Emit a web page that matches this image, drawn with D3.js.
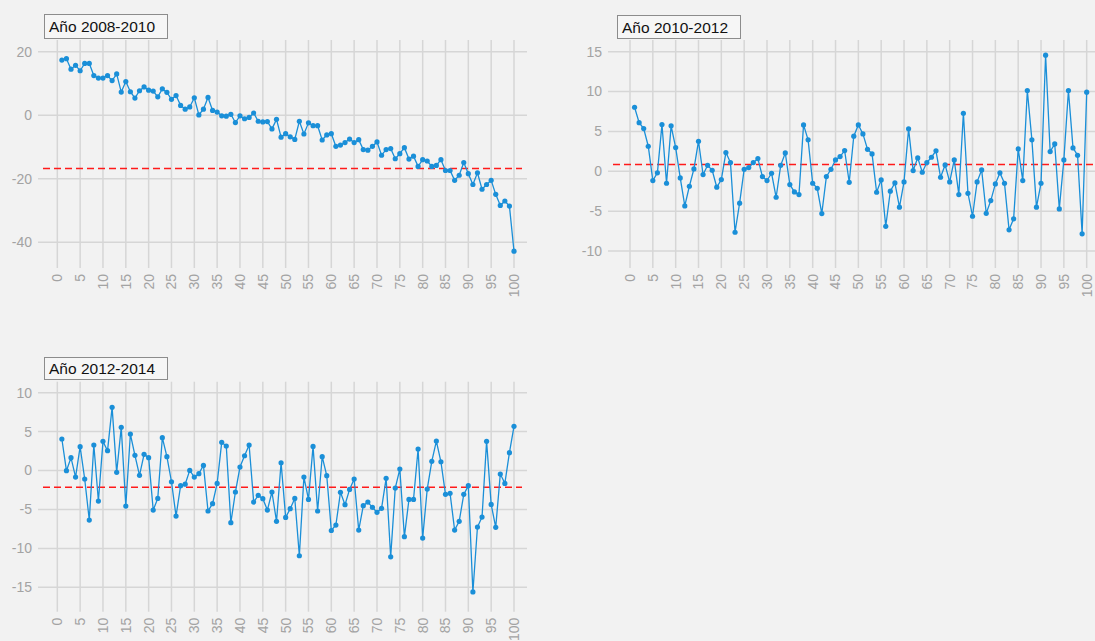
<!DOCTYPE html>
<html>
<head>
<meta charset="utf-8">
<script src="https://cdn.jsdelivr.net/npm/d3@7"></script>
<style>
  html, body { margin: 0; padding: 0; background: #f2f2f2; }
  svg { display: block; }
</style>
</head>
<body>
<svg id="chart" width="1095" height="641"></svg>
<script>
// ---- data ----
const titles = ["Año 2008-2010", "Año 2010-2012", "Año 2012-2014"];
const xTicks = d3.range(0, 101, 5);
const yTicks1 = [20, 0, -20, -40];
const yTicks2 = [15, 10, 5, 0, -5, -10];
const yTicks3 = [10, 5, 0, -5, -10, -15];
const refValues = [-16.8, 0.84, -2.15];

const values2008 = [17.35, 17.8, 14.5, 15.7, 14.0, 16.3, 16.3, 12.5, 11.7, 11.7,
  12.5, 10.9, 13.0, 7.3, 10.6, 7.4, 5.4, 7.7, 8.9, 7.9,
  7.6, 5.8, 8.3, 7.2, 5.0, 6.2, 3.1, 1.9, 2.6, 5.5,
  0.1, 1.9, 5.6, 1.5, 1.0, -0.2, -0.3, 0.3, -2.3, -0.2,
  -1.1, -0.7, 0.7, -1.9, -2.1, -2.0, -4.3, -1.3, -6.9, -5.8,
  -6.8, -7.6, -1.9, -5.9, -2.4, -3.3, -3.3, -7.8, -6.2, -5.8,
  -9.8, -9.4, -8.6, -7.5, -8.6, -7.7, -10.8, -11.0, -9.8, -8.4,
  -12.6, -10.8, -10.5, -13.7, -12.1, -10.2, -13.8, -12.9, -16.1, -14.0,
  -14.4, -16.1, -15.8, -14.0, -17.4, -17.4, -20.5, -18.9, -14.9, -18.4,
  -21.8, -18.1, -23.3, -21.8, -20.5, -24.9, -28.4, -27.0, -28.6, -42.8];

const values2010 = [8.03, 6.1, 5.36, 3.14, -1.17, -0.2, 5.86, -1.5, 5.7, 2.97,
  -0.83, -4.34, -1.88, 0.3, 3.77, -0.41, 0.75, 0.13, -2.0, -1.04,
  2.35, 1.09, -7.65, -4.0, 0.25, 0.46, 1.09, 1.59, -0.67, -1.17,
  -0.25, -3.26, 0.75, 2.3, -1.67, -2.59, -2.92, 5.82, 3.94, -1.5,
  -2.13, -5.3, -0.67, 0.25, 1.43, 1.84, 2.6, -1.38, 4.4, 5.82,
  4.69, 2.76, 2.18, -2.63, -1.08, -6.9, -2.5, -1.46, -4.5, -1.33,
  5.32, 0.09, 1.68, -0.12, 1.09, 1.76, 2.56, -0.75, 0.8, -1.33,
  1.43, -2.92, 7.28, -2.76, -5.64, -1.33, 0.17, -5.27, -3.68, -1.58,
  -0.2, -1.5, -7.35, -5.97, 2.81, -1.17, 10.13, 3.94, -4.5, -1.5,
  14.56, 2.47, 3.43, -4.72, 1.43, 10.13, 2.93, 2.01, -7.85, 9.92];

const values2012 = [4.05, -0.02, 1.65, -0.84, 3.06, -1.09, -6.36, 3.28, -3.92, 3.75,
  2.55, 8.12, -0.23, 5.55, -4.56, 4.69, 1.95, -0.62, 2.08, 1.65,
  -5.08, -3.58, 4.22, 1.78, -1.44, -5.85, -1.95, -1.75, 0.02, -0.84,
  -0.4, 0.66, -5.2, -4.26, -1.65, 3.62, 3.15, -6.7, -2.76, 0.45,
  1.9, 3.28, -4.05, -3.19, -3.62, -5.08, -2.76, -6.53, 1.0, -6.02,
  -4.9, -3.58, -10.95, -0.84, -3.71, 3.1, -5.2, 1.78, -0.66, -7.7,
  -7.0, -2.8, -4.39, -2.42, -1.09, -7.65, -4.52, -4.05, -4.73, -5.37,
  -4.86, -1.0, -11.08, -2.25, 0.19, -8.5, -3.71, -3.71, 2.76, -8.68,
  -2.38, 1.18, 3.79, 1.13, -3.06, -2.93, -7.65, -6.53, -3.06, -1.95,
  -15.6, -7.26, -5.98, 3.75, -4.35, -7.3, -0.45, -1.65, 2.29, 5.68];

// ---- layout ----
const panels = [
  { title: titles[0], values: values2008, yTicks: yTicks1, ref: refValues[0], yDom: [-40, 20],
    frame: { l: 38, r: 527, t: 40, b: 268 }, xr: [57.3, 514], yr: [242.3, 51.7],
    box: { x: 44, y: 14, w: 123, h: 24 } },
  { title: titles[1], values: values2010, yTicks: yTicks2, ref: refValues[1], yDom: [-10, 15],
    frame: { l: 608, r: 1100, t: 40, b: 268 }, xr: [630, 1086.7], yr: [251, 51.7],
    box: { x: 617, y: 15, w: 123, h: 23 } },
  { title: titles[2], values: values2012, yTicks: yTicks3, ref: refValues[2], yDom: [-15, 10],
    frame: { l: 38, r: 527, t: 381.7, b: 611.7 }, xr: [57.3, 514], yr: [587.3, 392.7],
    box: { x: 44, y: 357, w: 123, h: 22 } }
];

const svg = d3.select("#chart");
const FONT = "'Liberation Sans', Arial, sans-serif";
const gridCol = "#d6d6d6";
const tickCol = "#a3a3a3";
const lineCol = "#1a8fd8";

panels.forEach(p => {
  const g = svg.append("g");
  const f = p.frame;
  const x = d3.scaleLinear().domain([0, 100]).range(p.xr);
  const y = d3.scaleLinear().domain(p.yDom).range(p.yr);

  // vertical gridlines
  g.selectAll(".vg").data(xTicks).join("line")
    .attr("x1", d => x(d)).attr("x2", d => x(d))
    .attr("y1", f.t).attr("y2", f.b)
    .attr("stroke", gridCol).attr("stroke-width", 1.5);

  // horizontal gridlines
  g.selectAll(".hg").data(p.yTicks).join("line")
    .attr("x1", f.l).attr("x2", f.r)
    .attr("y1", d => y(d)).attr("y2", d => y(d))
    .attr("stroke", gridCol).attr("stroke-width", 1.5);

  // y tick labels
  g.selectAll(".yl").data(p.yTicks).join("text")
    .attr("x", f.l - 6).attr("y", d => y(d))
    .attr("dy", "0.35em")
    .attr("text-anchor", "end")
    .attr("font-family", FONT).attr("font-size", 14)
    .attr("fill", tickCol)
    .text(d => d);

  // x tick labels (rotated)
  g.selectAll(".xl").data(xTicks).join("text")
    .attr("transform", d => `translate(${x(d)},${f.b + 6}) rotate(-90)`)
    .attr("dy", "0.35em")
    .attr("text-anchor", "end")
    .attr("font-family", FONT).attr("font-size", 14)
    .attr("fill", tickCol)
    .text(d => d);

  // reference dashed line
  g.append("line")
    .attr("x1", f.l + 5).attr("x2", Math.min(f.r - 5, 1095))
    .attr("y1", y(p.ref)).attr("y2", y(p.ref))
    .attr("stroke", "#ff1a1a").attr("stroke-width", 1.5)
    .attr("stroke-dasharray", "7,4");

  // series line
  const pts = p.values.map((v, i) => ({ i: i + 1, v }));
  g.append("path")
    .datum(pts)
    .attr("fill", "none")
    .attr("stroke", lineCol)
    .attr("stroke-width", 1.3)
    .attr("d", d3.line().x(d => x(d.i)).y(d => y(d.v)));

  g.selectAll(".pt").data(pts).join("circle")
    .attr("cx", d => x(d.i)).attr("cy", d => y(d.v))
    .attr("r", 2.6)
    .attr("fill", lineCol);

  // title box
  g.append("rect")
    .attr("x", p.box.x + 0.5).attr("y", p.box.y + 0.5)
    .attr("width", p.box.w).attr("height", p.box.h)
    .attr("fill", "#f6f6f6")
    .attr("stroke", "#8c8c8c").attr("stroke-width", 1);
  g.append("text")
    .attr("x", p.box.x + 5).attr("y", p.box.y + p.box.h / 2 + 1)
    .attr("dy", "0.35em")
    .attr("font-family", FONT).attr("font-size", 15.5)
    .attr("fill", "#111")
    .text(p.title);
});
</script>
</body>
</html>
